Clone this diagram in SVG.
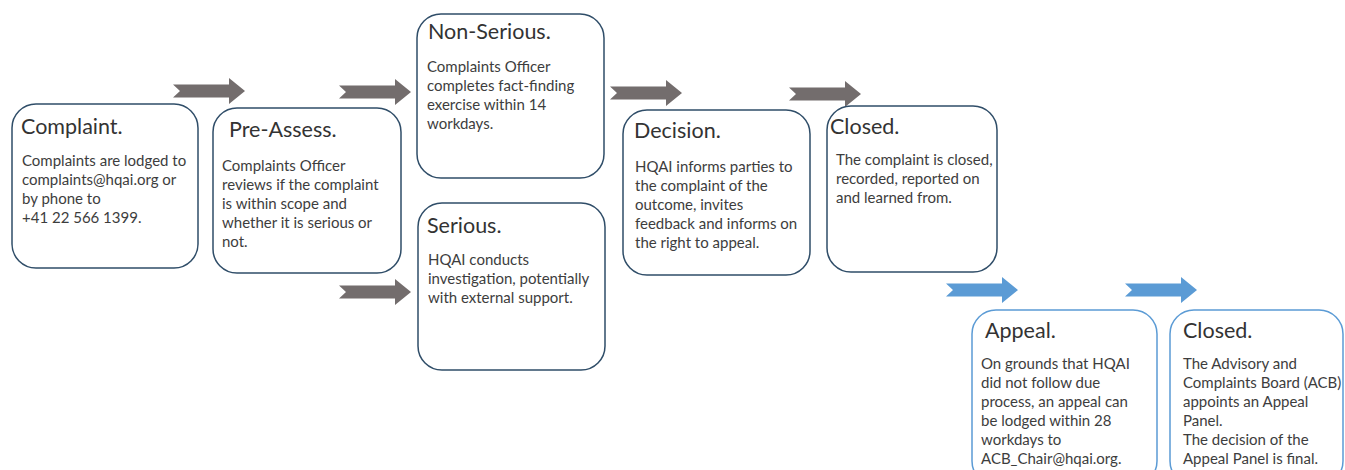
<svg xmlns="http://www.w3.org/2000/svg" xmlns:xlink="http://www.w3.org/1999/xlink" width="1345" height="470" viewBox="0 0 1345 470">
<style>
.box{fill:#fff;stroke:#2f4d68;stroke-width:1.5}
.boxb{fill:#fff;stroke:#5b9bd5;stroke-width:1.5}
.title{font-family:Lato,"Open Sans","Liberation Sans",sans-serif;font-size:21.5px;fill:#333}
.body{font-family:Lato,"Open Sans","Liberation Sans",sans-serif;font-size:15px;fill:#3d3d3d}
.ag{fill:#736d6d}
.ab{fill:#5b9bd5}
</style>
<defs>
<path id="arr" d="M0,-6.5 L56,-6.5 L56,-13 L72,0 L56,13 L56,6.5 L0,6.5 L7,0 Z"/>
</defs>
<rect width="1345" height="470" fill="#fff"/>
<g id="connectors">
<use xlink:href="#arr" class="ag" transform="translate(173,91)"/>
<use xlink:href="#arr" class="ag" transform="translate(339,92)"/>
<use xlink:href="#arr" class="ag" transform="translate(339,292)"/>
<use xlink:href="#arr" class="ag" transform="translate(610,93)"/>
<use xlink:href="#arr" class="ag" transform="translate(789,94)"/>
<use xlink:href="#arr" class="ab" transform="translate(946,290)"/>
<use xlink:href="#arr" class="ab" transform="translate(1125,290)"/>
</g>
<g id="complaint">
<rect class="box" x="12" y="104" width="186" height="164" rx="24"/>
<text class="title" x="21" y="134">Complaint.</text>
<text class="body" x="22" y="166">Complaints are lodged to</text>
<text class="body" x="22" y="185">complaints@hqai.org or</text>
<text class="body" x="22" y="204">by phone to</text>
<text class="body" x="22" y="223">+41 22 566 1399.</text>
</g>
<g id="pre-assess">
<rect class="box" x="213" y="108" width="188" height="165" rx="24"/>
<text class="title" x="229" y="137">Pre-Assess.</text>
<text class="body" x="222" y="171">Complaints Officer</text>
<text class="body" x="222" y="190">reviews if the complaint</text>
<text class="body" x="222" y="209">is within scope and</text>
<text class="body" x="222" y="228">whether it is serious or</text>
<text class="body" x="222" y="247">not.</text>
</g>
<g id="non-serious">
<rect class="box" x="417" y="14" width="187" height="164" rx="24"/>
<text class="title" x="428" y="39">Non-Serious.</text>
<text class="body" x="427" y="72">Complaints Officer</text>
<text class="body" x="427" y="91">completes fact-finding</text>
<text class="body" x="427" y="110">exercise within 14</text>
<text class="body" x="427" y="129">workdays.</text>
</g>
<g id="serious">
<rect class="box" x="418" y="203" width="187" height="167" rx="24"/>
<text class="title" x="427" y="233">Serious.</text>
<text class="body" x="428" y="265">HQAI conducts</text>
<text class="body" x="428" y="284">investigation, potentially</text>
<text class="body" x="428" y="303">with external support.</text>
</g>
<g id="decision">
<rect class="box" x="623" y="110" width="187" height="165" rx="24"/>
<text class="title" x="634" y="138">Decision.</text>
<text class="body" x="635" y="172">HQAI informs parties to</text>
<text class="body" x="635" y="191">the complaint of the</text>
<text class="body" x="635" y="210">outcome, invites</text>
<text class="body" x="635" y="229">feedback and informs on</text>
<text class="body" x="635" y="248">the right to appeal.</text>
</g>
<g id="closed">
<rect class="box" x="827" y="106" width="170" height="166" rx="24"/>
<text class="title" x="830" y="134">Closed.</text>
<text class="body" x="836" y="165">The complaint is closed,</text>
<text class="body" x="836" y="184">recorded, reported on</text>
<text class="body" x="836" y="203">and learned from.</text>
</g>
<g id="appeal">
<rect class="boxb" x="972" y="310" width="185" height="175" rx="24"/>
<text class="title" x="985" y="338">Appeal.</text>
<text class="body" x="981" y="369">On grounds that HQAI</text>
<text class="body" x="981" y="388">did not follow due</text>
<text class="body" x="981" y="407">process, an appeal can</text>
<text class="body" x="981" y="426">be lodged within 28</text>
<text class="body" x="981" y="445">workdays to</text>
<text class="body" x="981" y="464">ACB_Chair@hqai.org.</text>
</g>
<g id="closed-appeal">
<rect class="boxb" x="1170" y="310" width="173" height="175" rx="24"/>
<text class="title" x="1183" y="338">Closed.</text>
<text class="body" x="1183" y="369">The Advisory and</text>
<text class="body" x="1183" y="388">Complaints Board (ACB)</text>
<text class="body" x="1183" y="407">appoints an Appeal</text>
<text class="body" x="1183" y="426">Panel.</text>
<text class="body" x="1183" y="445">The decision of the</text>
<text class="body" x="1183" y="464">Appeal Panel is final.</text>
</g>
</svg>
